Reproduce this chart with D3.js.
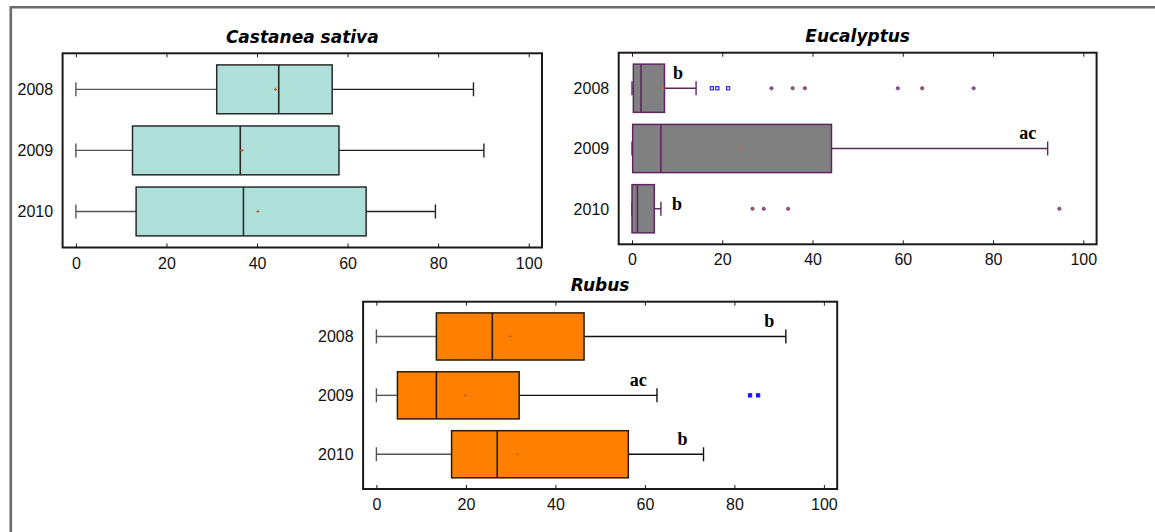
<!DOCTYPE html>
<html>
<head>
<meta charset="utf-8">
<script src="https://cdn.jsdelivr.net/npm/d3@7"></script>
<style>
  body { margin: 0; background: #fff; }
  svg { display: block; }
</style>
</head>
<body>
<div id="chart"></div>
<script>
// Box plot summaries per species, one entry per year
const years = ["2008", "2009", "2010"];
const xTicks = [0, 20, 40, 60, 80, 100];

const castanea = [
  { lo: 0, q1: 31.1, med: 44.8, q3: 56.6, hi: 87.8, mean: 44.1 },
  { lo: 0, q1: 12.5, med: 36.3, q3: 58.1, hi: 90.1, mean: 36.7 },
  { lo: 0, q1: 13.3, med: 37.0, q3: 64.1, hi: 79.4, mean: 40.2 }
];
const eucalyptus = [
  { lo: 0, q1: 0.3, med: 2.0, q3: 7.2, hi: 14.2, mean: 6.9 },
  { lo: 0, q1: 0.15, med: 6.4, q3: 44.2, hi: 92.1, mean: 23.8 },
  { lo: 0, q1: 0, med: 1.2, q3: 4.95, hi: 6.4, mean: 9.3 }
];
const rubus = [
  { lo: 0, q1: 13.4, med: 25.9, q3: 46.4, hi: 91.5, mean: 29.9 },
  { lo: 0, q1: 4.7, med: 13.4, q3: 31.9, hi: 62.7, mean: 19.9 },
  { lo: 0, q1: 16.8, med: 27.0, q3: 56.3, hi: 73.1, mean: 31.5 }
];

// outside points (square) and far outside points (dot)
const eucalyptusOutside = [[17.7, 18.9, 21.3], [], []];
const eucalyptusFar = [[30.9, 35.6, 38.3, 58.9, 64.3, 75.7], [], [26.7, 29.2, 34.6, 94.7]];
const rubusOutside = [[], [83.5, 85.3], []];
const rubusFar = [[], [], []];

// significance letters and where they sit along the axis
const eucalyptusLetters = ["b", "ac", "b"];
const eucalyptusLetterAt = [10.2, 87.7, 10.0];
const rubusLetters = ["b", "ac", "b"];
const rubusLetterAt = [87.8, 58.5, 68.4];

const width = 1155, height = 532;
const svg = d3.select("#chart").append("svg")
  .attr("width", width)
  .attr("height", height);

// outer grey frame (only top and left visible)
svg.append("path")
  .attr("d", "M10.8," + height + "V7.3H" + width)
  .attr("fill", "none")
  .attr("stroke", "#6b6b6b")
  .attr("stroke-width", 2.6);

function drawPanel(p, rows, opt) {
  const g = svg.append("g");
  const inset = 13.3;
  const x = d3.scaleLinear().domain([0, 100]).range([p.x0 + inset, p.x1 - inset]);
  const y = d3.scalePoint().domain(years).range([p.y0, p.y1]).padding(0.59);
  const boxH = y.step() * 0.8;
  const capH = 14;

  // title
  g.append("text")
    .attr("x", (p.x0 + p.x1) / 2)
    .attr("y", p.y0 - 10.5)
    .attr("text-anchor", "middle")
    .style("font-family", "'DejaVu Sans', sans-serif")
    .style("font-weight", "bold")
    .style("font-style", "italic")
    .style("font-size", "17px")
    .text(p.title);

  // boxes
  rows.forEach((d, i) => {
    const cy = y(years[i]);
    const row = g.append("g");
    // whiskers
    row.append("line")
      .attr("x1", x(d.lo)).attr("x2", x(d.q1))
      .attr("y1", cy).attr("y2", cy)
      .attr("stroke", opt.lowWhisker).attr("stroke-width", 1.4);
    row.append("line")
      .attr("x1", x(d.q3)).attr("x2", x(d.hi))
      .attr("y1", cy).attr("y2", cy)
      .attr("stroke", opt.whisker).attr("stroke-width", 1.4);
    [d.lo, d.hi].forEach((v, k) => {
      row.append("line")
        .attr("x1", x(v)).attr("x2", x(v))
        .attr("y1", cy - capH / 2).attr("y2", cy + capH / 2)
        .attr("stroke", k === 0 ? opt.lowWhisker : opt.whisker)
        .attr("stroke-width", 1.4);
    });
    row.append("rect")
      .attr("x", x(d.q1)).attr("y", cy - boxH / 2)
      .attr("width", x(d.q3) - x(d.q1)).attr("height", boxH)
      .attr("fill", opt.fill)
      .attr("stroke", opt.stroke).attr("stroke-width", 1.5);
    row.append("line")
      .attr("x1", x(d.med)).attr("x2", x(d.med))
      .attr("y1", cy - boxH / 2).attr("y2", cy + boxH / 2)
      .attr("stroke", opt.stroke).attr("stroke-width", 1.6);
    // mean marker
    row.append("path")
      .attr("d", "M" + (x(d.mean) - 1.6) + "," + cy + "h3.2M" + x(d.mean) + "," + (cy - 1.6) + "v3.2")
      .attr("stroke", "#c8682a").attr("stroke-width", 1.1);

    // outside points
    (opt.outside[i] || []).forEach(v => {
      row.append("rect")
        .attr("x", x(v) - 1.6).attr("y", cy - 1.6)
        .attr("width", 3.2).attr("height", 3.2)
        .attr("fill", opt.outsideFill)
        .attr("stroke", "#1a1aff").attr("stroke-width", 1.1);
    });
    (opt.far[i] || []).forEach(v => {
      row.append("circle")
        .attr("cx", x(v)).attr("cy", cy).attr("r", 1.6)
        .attr("fill", "#b0602a")
        .attr("stroke", "#5a3aa8").attr("stroke-width", 0.9);
    });

    // letters
    if (opt.letters) {
      const lx = x(opt.letterAt[i]);
      const beside = opt.letterAt[i] > d.hi;
      row.append("text")
        .attr("x", lx)
        .attr("y", beside ? cy + 1 : cy - 9.5)
        .attr("text-anchor", "middle")
        .style("font-family", "'Liberation Serif', 'Times New Roman', serif")
        .style("font-weight", "bold")
        .style("font-size", "18px")
        .text(opt.letters[i]);
    }
  });

  // frame
  g.append("rect")
    .attr("x", p.x0).attr("y", p.y0)
    .attr("width", p.x1 - p.x0).attr("height", p.y1 - p.y0)
    .attr("fill", "none")
    .attr("stroke", "#1a1a1a").attr("stroke-width", 2);

  // bottom axis, ticks inside the frame
  const minor = d3.range(0, 101, 5);
  const bottom = g.append("g").attr("transform", "translate(0," + p.y1 + ")");
  bottom.call(d3.axisBottom(x).tickValues(minor).tickSize(-2.5).tickFormat(""));
  bottom.call(d3.axisBottom(x).tickValues(xTicks).tickSize(-4).tickPadding(0).tickFormat(d3.format("d")));
  bottom.selectAll(".domain").remove();
  bottom.selectAll("text")
    .attr("y", 21).attr("dy", null)
    .style("font-family", "'Liberation Sans', Arial, sans-serif")
    .style("font-size", "16px")
    .attr("fill", "#111");

  const top = g.append("g").attr("transform", "translate(0," + p.y0 + ")");
  top.call(d3.axisTop(x).tickValues(minor).tickSize(-2.5).tickFormat(""));
  top.call(d3.axisTop(x).tickValues(xTicks).tickSize(-4).tickFormat(""));
  top.selectAll(".domain").remove();
  g.selectAll(".tick line").attr("stroke", "#1a1a1a");

  // year labels
  const left = g.append("g").attr("transform", "translate(" + p.x0 + ",0)");
  left.call(d3.axisLeft(y).tickSize(0).tickPadding(9.5));
  left.selectAll(".domain").remove();
  left.selectAll("text")
    .attr("dy", "0.34em")
    .style("font-family", "'Liberation Sans', Arial, sans-serif")
    .style("font-size", "16px")
    .attr("fill", "#111");
}

drawPanel({ title: "Castanea sativa", x0: 62.6, x1: 542, y0: 53.3, y1: 247.5 }, castanea, {
  fill: "#aedfd9", stroke: "#2a2a2a", whisker: "#222", lowWhisker: "#555",
  outside: [], far: [], outsideFill: "#fff"
});
drawPanel({ title: "Eucalyptus", x0: 618.7, x1: 1096.6, y0: 52.7, y1: 244.3 }, eucalyptus, {
  fill: "#808080", stroke: "#5e2660", whisker: "#5e2660", lowWhisker: "#5e2660",
  outside: eucalyptusOutside, far: eucalyptusFar, outsideFill: "#fff",
  letters: eucalyptusLetters, letterAt: eucalyptusLetterAt
});
drawPanel({ title: "Rubus", x0: 363.1, x1: 837.2, y0: 301.7, y1: 489 }, rubus, {
  fill: "#ff8000", stroke: "#2a1a08", whisker: "#111", lowWhisker: "#555",
  outside: rubusOutside, far: rubusFar, outsideFill: "#1a1aff",
  letters: rubusLetters, letterAt: rubusLetterAt
});
</script>
</body>
</html>
